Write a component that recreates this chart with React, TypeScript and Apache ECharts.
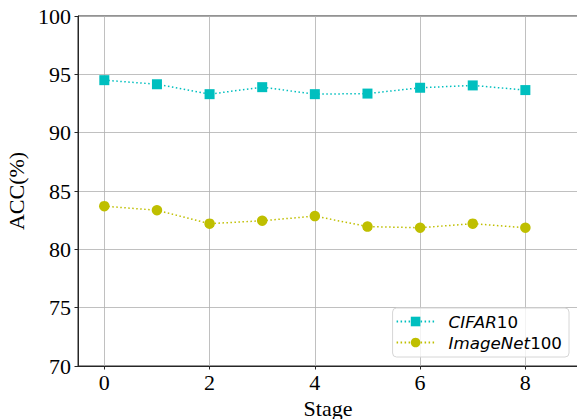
import React, { useEffect, useRef } from "react";
import * as echarts from "echarts";

const stages = [0, 1, 2, 3, 4, 5, 6, 7, 8];
const cifar10 = [94.5, 94.15, 93.3, 93.9, 93.3, 93.35, 93.85, 94.05, 93.65];
const imagenet100 = [83.7, 83.35, 82.2, 82.45, 82.85, 81.95, 81.85, 82.2, 81.85];
const xTicks = [0, 2, 4, 6, 8];
const seriesNames = ["CIFAR10", "ImageNet100"];

const serif = "Liberation Serif";
const sans = "DejaVu Sans";

export default function App() {
  const ref = useRef<HTMLDivElement>(null);
  useEffect(() => {
    if (!ref.current) return;
    const chart = echarts.init(ref.current, null, { renderer: "svg" });
    const labelStyle = { fontFamily: serif, fontSize: 22, color: "#000" };
    chart.setOption({
      animation: false,
      backgroundColor: "#fff",
      textStyle: { fontFamily: serif },
      grid: {
        left: 78,
        top: 16,
        right: -1,
        bottom: 53,
        outerBoundsMode: "none",
        containLabel: false,
        show: true,
        borderColor: "#262626",
        borderWidth: 1,
        backgroundColor: "transparent",
      },
      xAxis: {
        type: "value",
        min: -0.5,
        max: 9,
        name: "Stage",
        nameLocation: "middle",
        nameGap: 31,
        nameTextStyle: labelStyle,
        axisLine: { show: true, onZero: false, lineStyle: { color: "#262626", width: 1 } },
        axisTick: {
          show: true,
          length: 3.5,
          customValues: xTicks,
          lineStyle: { color: "#262626", width: 1 },
        },
        axisLabel: {
          fontFamily: serif,
          fontSize: 22,
          color: "#000",
          margin: 5,
          customValues: xTicks,
        },
        splitLine: { show: true, lineStyle: { color: "#b0b0b0", width: 0.8 } },
      },
      yAxis: {
        type: "value",
        min: 70,
        max: 100,
        interval: 5,
        name: "ACC(%)",
        nameLocation: "middle",
        nameGap: 44,
        nameRotate: 90,
        nameTextStyle: labelStyle,
        axisLine: { show: true, onZero: false, lineStyle: { color: "#262626", width: 1 } },
        axisTick: { show: true, length: 3.5, lineStyle: { color: "#262626", width: 1 } },
        axisLabel: { fontFamily: serif, fontSize: 22, color: "#000", margin: 7 },
        splitLine: { show: true, lineStyle: { color: "#b0b0b0", width: 0.8 } },
      },
      legend: {
        orient: "vertical",
        right: 8,
        bottom: 62,
        itemWidth: 38,
        itemHeight: 12,
        itemGap: 4,
        padding: [5, 7, 6, 3],
        borderColor: "#d6d6d6",
        borderWidth: 1,
        borderRadius: 4,
        backgroundColor: "rgba(255,255,255,0.8)",
        data: seriesNames,
        formatter: (name: string) => {
          const m = name.match(/^([A-Za-z]+)(\d+)$/);
          if (!m) return name;
          return `{i|${m[1]}}{n|${m[2]}}`;
        },
        textStyle: {
          fontFamily: sans,
          fontSize: 16.7,
          color: "#000",
          rich: {
            i: {
              fontFamily: sans,
              fontSize: 16.7,
              fontStyle: "italic",
              color: "#000",
              lineHeight: 20,
              padding: [0, 0, 0, 9],
            },
            n: {
              fontFamily: sans,
              fontSize: 16.7,
              color: "#000",
              lineHeight: 20,
            },
          },
        },
      },
      series: [
        {
          name: seriesNames[0],
          type: "line",
          data: stages.map((s, i) => [s, cifar10[i]]),
          symbol: "rect",
          symbolSize: 10,
          itemStyle: { color: "#00BFBF" },
          lineStyle: { color: "#00BFBF", width: 1.5, type: [1.5, 2.5] },
          z: 3,
        },
        {
          name: seriesNames[1],
          type: "line",
          data: stages.map((s, i) => [s, imagenet100[i]]),
          symbol: "circle",
          symbolSize: 10.5,
          itemStyle: { color: "#BFBF00" },
          lineStyle: { color: "#BFBF00", width: 1.5, type: [1.5, 2.5] },
          z: 3,
        },
      ],
    });
    return () => chart.dispose();
  }, []);
  return <div ref={ref} style={{ width: 577, height: 419, position: "absolute", left: 0, top: 0 }} />;
}
